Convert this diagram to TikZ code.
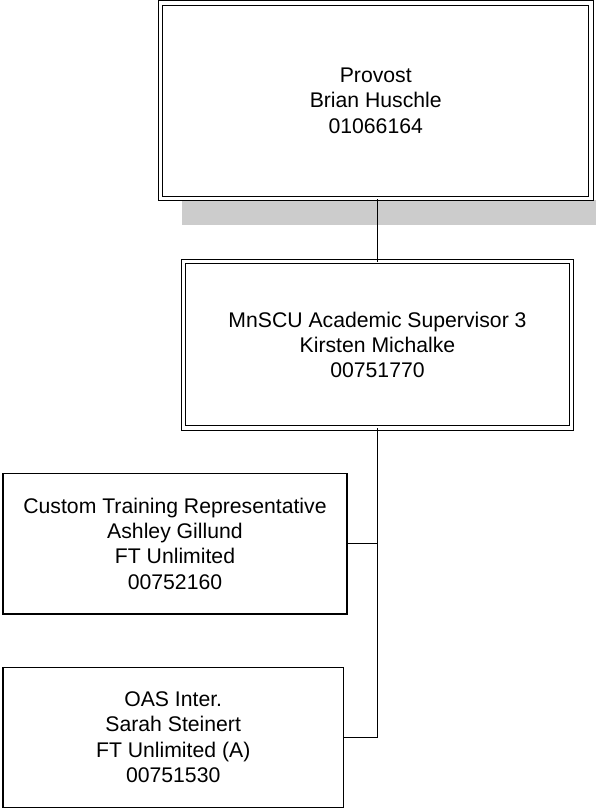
\documentclass[tikz,border=0pt]{standalone}
\usepackage{fontspec}
\setmainfont{Liberation Sans}
\usepackage{tikz}
\usetikzlibrary{positioning,calc}
\definecolor{shadowgray}{RGB}{204,204,204}
\tikzset{
  posbox/.style={rectangle, draw=black, line width=1.4pt, fill=white,
                 align=center, inner sep=0pt, outer sep=0pt,
                 font=\fontsize{21.2}{25.3}\selectfont},
  headbox/.style={posbox, line width=1.2pt, double=white, double distance=3.3pt},
  orgline/.style={line width=1.4pt, black},
}
\begin{document}
\begin{tikzpicture}[x=1pt, y=-1pt]
  \useasboundingbox (0,0) rectangle (596,808);
  % Shadow under the provost box
  \fill[shadowgray] (182,199.5) rectangle (596,225);
  % Provost
  \node[headbox, minimum width=430.5pt, minimum height=195.5pt]
    (provost) at (375.75,100.75) {Provost\\Brian Huschle\\01066164};
  % Supervisor
  \node[headbox, minimum width=388pt, minimum height=166.5pt]
    (super) at (377.5,344.75) {MnSCU Academic Supervisor 3\\Kirsten Michalke\\00751770};
  % Reports
  \node[posbox, minimum width=344pt, minimum height=140.7pt]
    (custom) at (175,543.6) {Custom Training Representative\\Ashley Gillund\\FT Unlimited\\00752160};
  \node[posbox, minimum width=340.3pt, minimum height=140pt]
    (oas) at (173.2,737.2) {OAS Inter.\\Sarah Steinert\\FT Unlimited (A)\\00751530};
  % Connectors
  \draw[orgline] (super.north) -- (super.north |- provost.south);
  \draw[orgline] (super.south) |- (oas.east);
  \draw[orgline] (custom.east) -- (custom.east -| super.south);
\end{tikzpicture}
\end{document}
